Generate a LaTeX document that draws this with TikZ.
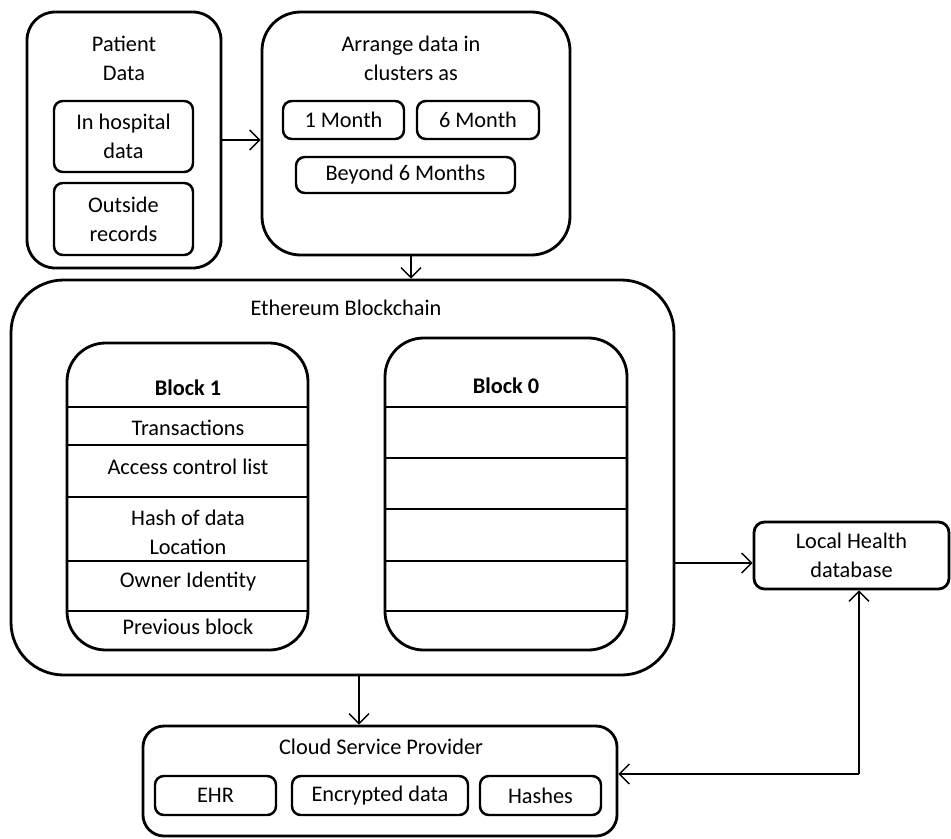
\documentclass[tikz,border=0pt]{standalone}
\usepackage{fontspec}
\setmainfont{Carlito}
\usetikzlibrary{arrows.meta,fit}
\tikzset{
  bigbox/.style={draw, line width=1.6pt, inner sep=0pt},
  smallbox/.style={draw, line width=1.4pt, rounded corners=5pt, inner sep=0pt},
  txt/.style={align=center, inner sep=0pt},
  arr/.style={line width=0.8pt, -{Straight Barb[length=2mm,width=4mm]}},
  rowline/.style={line width=1.4pt},
}
\begin{document}
\begin{tikzpicture}[x=0.02cm, y=-0.02cm, font=\fontsize{12.7}{16.6}\selectfont]
  \useasboundingbox (0,0) rectangle (951,839);

  % patient data
  \node[bigbox, rounded corners=16pt, fit={(27,12) (221,268)}] (patient) {};
  \node[txt] (patienttitle) at (124,58) {Patient\\Data};
  \node[smallbox, fit={(54,101) (193,172)}] (hospital) {};
  \node[txt] (hospitaltext) at (hospital.center) {In hospital\\data};
  \node[smallbox, fit={(54,183) (193,255)}] (outside) {};
  \node[txt] (outsidetext) at (outside.center) {Outside\\records};

  % clusters
  \node[bigbox, rounded corners=22pt, fit={(262,12) (570,255)}] (arrange) {};
  \node[txt] (arrangetitle) at (411,58) {Arrange data in\\clusters as};
  \node[smallbox, fit={(283,101) (404,139)}] (onemonth) {};
  \node[txt] (onemonthtext) at (onemonth.center) {1 Month};
  \node[smallbox, fit={(417,101) (539,139)}] (sixmonth) {};
  \node[txt] (sixmonthtext) at (sixmonth.center) {6 Month};
  \node[smallbox, fit={(296,157) (515,193)}] (beyond) {};
  \node[txt] (beyondtext) at (beyond.center) {Beyond 6 Months};

  % blockchain
  \node[bigbox, rounded corners=30pt, fit={(11,280) (674,675)}] (eth) {};
  \node[txt] (ethtitle) at (346,308) {Ethereum Blockchain};

  \node[bigbox, rounded corners=22pt, fit={(67,343) (308,650)}] (blockone) {};
  \foreach \y in {407,445,497,561,611}
    \draw[rowline] (blockone.west |- 0,\y) -- (blockone.east |- 0,\y);
  \node[txt, font=\fontsize{12.7}{16.6}\selectfont\bfseries] (blockonetitle) at (188,388) {Block 1};
  \node[txt] (transactions) at (188,428) {Transactions};
  \node[txt] (acl) at (188,467) {Access control list};
  \node[txt] (hash) at (188,532) {Hash of data\\Location};
  \node[txt] (owner) at (188,582) {Owner Identity};
  \node[txt] (previous) at (188,627) {Previous block};

  \node[bigbox, rounded corners=22pt, fit={(385,338) (627,650)}] (blockzero) {};
  \foreach \y in {407,458,509,561,611}
    \draw[rowline] (blockzero.west |- 0,\y) -- (blockzero.east |- 0,\y);
  \node[txt, font=\fontsize{12.7}{16.6}\selectfont\bfseries] (blockzerotitle) at (506,386) {Block 0};

  % local database
  \node[smallbox, line width=1.6pt, rounded corners=6pt, fit={(754,522) (949,589)}] (local) {};
  \node[txt] (localtext) at (local.center) {Local Health\\database};

  % cloud
  \node[bigbox, rounded corners=12pt, fit={(143,726) (617,836)}] (cloud) {};
  \node[txt] (cloudtitle) at (381,747) {Cloud Service Provider};
  \node[smallbox, fit={(155,776) (276,815)}] (ehr) {};
  \node[txt] (ehrtext) at (ehr.center) {EHR};
  \node[smallbox, fit={(292,776) (468,815)}] (encrypted) {};
  \node[txt] (encryptedtext) at (encrypted.center) {Encrypted data};
  \node[smallbox, fit={(480,776) (601,815)}] (hashes) {};
  \node[txt] (hashestext) at (hashes.center) {Hashes};

  % connectors
  \coordinate (turn) at (859,774);
  \draw[arr] (patient.east |- 0,140) -- (arrange.west |- 0,140);
  \draw[arr] (arrange.south -| 411,0) -- (eth.north -| 411,0);
  \draw[arr] (eth.east |- 0,563) -- (local.west |- 0,563);
  \draw[arr] (eth.south -| 359,0) -- (cloud.north -| 359,0);
  \draw[arr] (turn) -- (cloud.east |- turn);
  \draw[arr] (turn) -- (turn |- local.south);
\end{tikzpicture}
\end{document}
